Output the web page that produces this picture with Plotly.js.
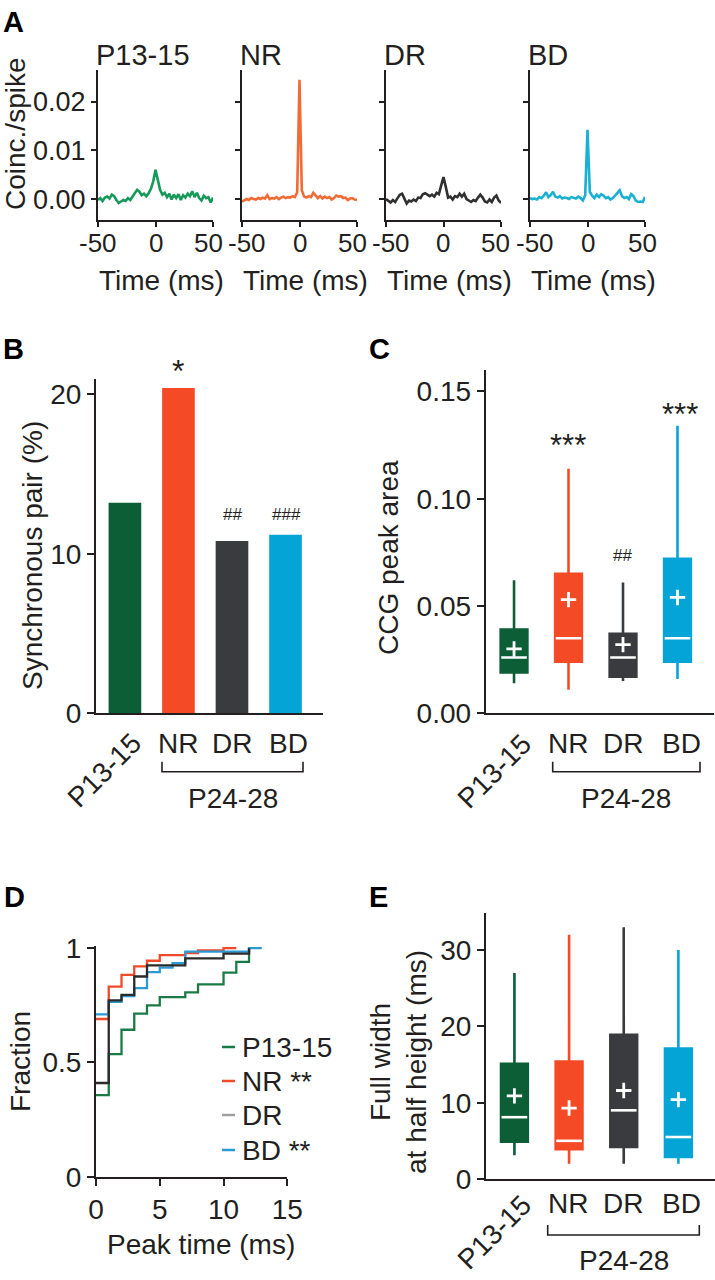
<!DOCTYPE html>
<html><head><meta charset="utf-8">
<script src="https://cdn.plot.ly/plotly-3.0.1.min.js"></script>
<style>html,body{margin:0;padding:0;background:#fff}#chart{width:715px;height:1280px}</style>
</head><body><div id="chart"></div>
<script>
// ---------------- DATA ----------------
const groups = ['P13-15', 'NR', 'DR', 'BD'];
const groupSpan = 'P24-28';

// Panel A: cross-correlograms (coincidences / spike), 2-ms bins
const ccgTime = [-50,-48,-46,-44,-42,-40,-38,-36,-34,-32,-30,-28,-26,-24,-22,-20,-18,-16,-14,-12,-10,-8,-6,-4,-2,0,2,4,6,8,10,12,14,16,18,20,22,24,26,28,30,32,34,36,38,40,42,44,46,48,50];
const ccgP1315 = [-0.0002,0.0002,-0.0004,0.0003,0.0005,0.0001,0.0009,0.0006,-0.0002,-0.0008,
  -0.0005,-0.0002,-0.0004,0.0002,-0.0002,0.0004,0.0012,0.0019,0.0015,0.0008,
  0.0011,0.0006,0.0012,0.0021,0.0036,0.0060,0.0040,0.0019,0.0009,0.0013,
  0.0004,0.0011,-0.0001,0.0009,0.0002,0.0010,-0.0002,0.0008,0.0003,0.0011,
  0.0006,0.0016,0.0004,0.0013,0.0002,-0.0003,0.0007,0.0002,0.0004,-0.0007,0.0003];
const ccgNR = [-0.0005,-0.0003,0.0000,-0.0002,0.0002,0.0000,-0.0001,0.0002,0.0000,0.0003,
  0.0001,0.0008,0.0000,0.0002,0.0001,0.0004,0.0000,0.0003,0.0005,0.0002,
  0.0004,0.0003,0.0006,0.0004,0.0014,0.0245,0.0018,0.0005,0.0003,0.0006,
  0.0004,0.0013,0.0008,0.0002,0.0006,0.0001,0.0005,0.0002,0.0004,-0.0001,
  0.0002,0.0007,0.0005,0.0006,0.0002,0.0003,-0.0002,0.0001,0.0002,-0.0001,-0.0002];
const ccgDR = [0.0000,-0.0004,-0.0007,-0.0002,-0.0006,0.0002,0.0009,0.0011,-0.0001,-0.0009,
  -0.0003,-0.0005,-0.0001,-0.0004,0.0003,0.0002,0.0010,0.0012,0.0009,0.0006,
  0.0009,0.0005,0.0013,0.0010,0.0028,0.0045,0.0025,0.0003,0.0005,-0.0001,
  0.0006,0.0004,0.0011,0.0005,0.0011,0.0000,-0.0003,-0.0006,-0.0002,-0.0004,
  0.0003,0.0009,0.0003,-0.0005,-0.0007,-0.0001,-0.0006,0.0003,0.0007,-0.0003,-0.0008];
const ccgBD = [0.0002,0.0000,0.0001,-0.0001,0.0004,0.0002,0.0007,0.0014,0.0004,0.0008,
  0.0015,0.0005,0.0003,0.0006,0.0001,0.0003,0.0002,0.0000,0.0004,0.0003,
  0.0001,0.0005,0.0002,-0.0003,0.0008,0.0142,0.0015,0.0007,0.0002,0.0009,
  0.0004,0.0010,0.0007,0.0002,0.0004,-0.0001,0.0002,0.0007,0.0012,0.0018,
  0.0006,0.0002,0.0004,0.0000,0.0010,0.0006,-0.0003,-0.0006,-0.0005,-0.0006,0.0004];
const ccgTickVals = [-50, 0, 50];
const ccgTickText = ['-50', '0', '50'];

// Panel B: synchronous pairs (%)
const syncPairPct = [13.2, 20.4, 10.8, 11.2];
const syncSig = ['', '*', '##', '###'];

// Panel C: CCG peak area (box summary)
const areaLower  = [0.014, 0.011, 0.015, 0.016];
const areaQ1     = [0.019, 0.024, 0.017, 0.024];
const areaMedian = [0.026, 0.035, 0.026, 0.035];
const areaQ3     = [0.039, 0.065, 0.037, 0.072];
const areaUpper  = [0.062, 0.114, 0.061, 0.134];
const areaMean   = [0.030, 0.053, 0.032, 0.054];
const areaSig = ['', '***', '##', '***'];

// Panel D: cumulative fraction of peak time (ms)
const peakT_P1315 = [0, 1, 2, 3, 4, 5, 7, 8, 10, 11, 12];
const peakF_P1315 = [0.357, 0.536, 0.643, 0.714, 0.75, 0.786, 0.807, 0.842, 0.893, 0.94, 1.0];
const peakT_NR = [0, 1, 2, 3, 4, 5, 7, 8, 10, 11];
const peakF_NR = [0.69, 0.832, 0.883, 0.92, 0.945, 0.97, 0.978, 0.99, 1.0, 1.0];
const peakT_DR = [0, 1, 2, 3, 4, 7, 10, 12];
const peakF_DR = [0.41, 0.772, 0.796, 0.876, 0.925, 0.955, 0.976, 1.0];
const peakT_BD = [0, 1, 2, 3, 4, 5, 6, 7, 12, 13];
const peakF_BD = [0.71, 0.765, 0.79, 0.825, 0.895, 0.915, 0.935, 0.985, 1.0, 1.0];
const legendLabels = ['P13-15', 'NR **', 'DR', 'BD **'];

// Panel E: full width at half height (ms)
const fwhmLower  = [3.1, 2.0, 2.0, 2.0];
const fwhmQ1     = [4.9, 3.9, 4.2, 2.9];
const fwhmMedian = [8.1, 5.0, 9.0, 5.5];
const fwhmQ3     = [15.1, 15.4, 18.9, 17.1];
const fwhmUpper  = [27.0, 32.0, 33.0, 30.0];
const fwhmMean   = [10.9, 9.3, 11.6, 10.4];

// ---------------- STYLE ----------------
const W = 715, H = 1280;
const FONT = 'Liberation Sans, Arial, Helvetica, sans-serif';
const TXT = '#231f20';
const fillCols = ['#0b5e35', '#f44b26', '#3a3b3e', '#05a4d6'];
const ccgCols  = ['#17995a', '#f26a35', '#303030', '#19b0d2'];
const cdfCols  = ['#1a7a45', '#ef4a2a', '#2a2a2a', '#2a9ad6'];
const legendCols = ['#1a7a45', '#ef4a2a', '#a0a0a0', '#2a9ad6'];

const px = x => x / W;
const py = y => 1 - y / H;

function ann(text, x, y, o) {
  o = o || {};
  const font = Object.assign({family: FONT, size: 28, color: TXT}, o.font || {});
  const a = Object.assign({text: text, x: px(x), y: py(y), xref: 'paper', yref: 'paper',
    showarrow: false, xanchor: 'center', yanchor: 'middle'}, o);
  a.font = font;
  return a;
}

const axBase = {
  showgrid: false, zeroline: false, showline: true, linecolor: TXT, linewidth: 2,
  ticks: 'outside', tickcolor: TXT, tickwidth: 2, ticklen: 6,
  tickfont: {family: FONT, size: 28, color: TXT}, fixedrange: true
};
function ax(o) { return Object.assign({}, axBase, o); }

const traces = [];
const layout = {
  width: W, height: H, autosize: false,
  margin: {l: 0, r: 0, t: 0, b: 0},
  paper_bgcolor: '#ffffff', plot_bgcolor: 'rgba(0,0,0,0)',
  showlegend: false, hovermode: false, boxmode: 'overlay',
  annotations: [], shapes: []
};

// ---------------- PANEL A ----------------
const ccgSeries = [ccgP1315, ccgNR, ccgDR, ccgBD];
const aLeft = [98, 242, 386, 530], aWidth = 115;
const aTop = 70, aBottom = 220;
const tickNudge = [[0, 0, -5], [5, 0, -5], [5, 0, -5], [5, 0, -3]];
for (let i = 0; i < 4; i++) {
  const xn = i === 0 ? '' : String(i + 1);
  traces.push({type: 'scatter', mode: 'lines', x: ccgTime, y: ccgSeries[i],
    xaxis: 'x' + xn, yaxis: 'y' + xn, line: {color: ccgCols[i], width: 2.6}});
  layout['xaxis' + xn] = ax({domain: [px(aLeft[i]), px(aLeft[i] + aWidth)], anchor: 'y' + xn,
    range: [-50, 50], tickvals: ccgTickVals, ticklen: 5, showticklabels: false});
  layout['yaxis' + xn] = ax({domain: [py(aBottom), py(aTop)], anchor: 'x' + xn,
    range: [-0.0043, 0.0265], tickvals: [0, 0.01, 0.02], ticktext: ['0.00', '0.01', '0.02'],
    ticklen: 5, showticklabels: i === 0, tickfont: {family: FONT, size: 27, color: TXT}});
  // x tick labels (pushed apart slightly at the shared panel borders, as in the reference)
  ccgTickVals.forEach((v, k) => {
    const xPix = aLeft[i] + (v + 50) / 100 * aWidth + tickNudge[i][k];
    layout.annotations.push(ann(ccgTickText[k], xPix, 243, {font: {size: 26}}));
  });
  layout.annotations.push(ann(groups[i], aLeft[i] - 4, 55, {xanchor: 'left', font: {size: 29}}));
  layout.annotations.push(ann('Time (ms)', aLeft[i] + aWidth / 2 + 6, 281));
}
layout.annotations.push(ann('Coinc./spike', 15, 134, {textangle: -90}));

// ---------------- PANEL B ----------------
const catIdx = groups.map((g, i) => i);
traces.push({type: 'bar', x: catIdx, y: syncPairPct, width: 0.61,
  marker: {color: fillCols, line: {width: 0}}, xaxis: 'x5', yaxis: 'y5'});
layout.xaxis5 = ax({domain: [px(96), px(323)], anchor: 'y5', range: [-0.54, 3.70],
  ticks: '', showticklabels: false});
layout.yaxis5 = ax({domain: [py(713.3), py(379)], anchor: 'x5', range: [0, 20.96],
  tickvals: [0, 10, 20], ticklen: 7});
layout.annotations.push(ann('Synchronous pair (%)', 32, 556, {textangle: -90}));

// ---------------- PANEL C ----------------
function boxPanel(xa, ya, lo, q1, med, q3, up, mean) {
  for (let i = 0; i < 4; i++) {
    traces.push({type: 'box', x: [i], q1: [q1[i]], median: [med[i]], q3: [q3[i]],
      lowerfence: [lo[i]], upperfence: [up[i]], width: 0.49, whiskerwidth: 0,
      fillcolor: fillCols[i], line: {color: fillCols[i], width: 2.6}, boxpoints: false,
      xaxis: xa, yaxis: ya});
  }
  const mx = [], my = [];
  med.forEach((m, i) => { mx.push(i - 0.235, i + 0.235, null); my.push(m, m, null); });
  traces.push({type: 'scatter', mode: 'lines', x: mx, y: my, connectgaps: false,
    line: {color: '#ffffff', width: 2.6}, xaxis: xa, yaxis: ya});
  traces.push({type: 'scatter', mode: 'markers', x: catIdx, y: mean,
    marker: {symbol: 'cross-thin', size: 11, color: '#ffffff', line: {color: '#ffffff', width: 2.8}},
    xaxis: xa, yaxis: ya});
}
boxPanel('x6', 'y6', areaLower, areaQ1, areaMedian, areaQ3, areaUpper, areaMean);
layout.xaxis6 = ax({domain: [px(485.7), px(714)], anchor: 'y6', range: [-0.52, 3.67],
  ticks: '', showticklabels: false});
layout.yaxis6 = ax({domain: [py(713.3), py(370)], anchor: 'x6', range: [0, 0.16],
  tickvals: [0, 0.05, 0.10, 0.15], ticktext: ['0.00', '0.05', '0.10', '0.15'], ticklen: 7});
layout.annotations.push(ann('CCG peak area', 388, 558, {textangle: -90}));

// ---------------- PANEL D ----------------
const cdfT = [peakT_P1315, peakT_NR, peakT_DR, peakT_BD];
const cdfF = [peakF_P1315, peakF_NR, peakF_DR, peakF_BD];
[0, 1, 3, 2].forEach(i => {
  traces.push({type: 'scatter', mode: 'lines', x: cdfT[i], y: cdfF[i], line: {shape: 'hv', color: cdfCols[i], width: 2.3},
    xaxis: 'x7', yaxis: 'y7'});
});
layout.xaxis7 = ax({domain: [px(96), px(287.3)], anchor: 'y7', range: [0, 15],
  tickvals: [0, 5, 10, 15], ticklen: 7});
layout.yaxis7 = ax({domain: [py(1176.7), py(945.9)], anchor: 'x7', range: [0, 1.01],
  tickvals: [0, 0.5, 1], ticktext: ['0', '0.5', '1'], ticklen: 7});
layout.annotations.push(ann('Fraction', 20, 1062, {textangle: -90}));
layout.annotations.push(ann('Peak time (ms)', 201, 1244));
const legY = [1047, 1081, 1115, 1150];
legendLabels.forEach((lab, i) => {
  layout.shapes.push({type: 'line', xref: 'paper', yref: 'paper', x0: px(222), x1: px(235),
    y0: py(legY[i]), y1: py(legY[i]), line: {color: legendCols[i], width: 2.5}});
  layout.annotations.push(ann(lab, 240, legY[i], {xanchor: 'left'}));
});

// ---------------- PANEL E ----------------
boxPanel('x8', 'y8', fwhmLower, fwhmQ1, fwhmMedian, fwhmQ3, fwhmUpper, fwhmMean);
layout.xaxis8 = ax({domain: [px(486), 1], anchor: 'y8', range: [-0.52, 3.67],
  ticks: '', showticklabels: false});
layout.yaxis8 = ax({domain: [py(1179), py(912.7)], anchor: 'x8', range: [0, 34.9],
  tickvals: [0, 10, 20, 30], ticklen: 7});
layout.annotations.push(ann('Full width<br>at half height (ms)', 398, 1062, {textangle: -90}));

// ---------------- Category labels & brackets ----------------
function catLabels(xCenters, yRow, p13c, bx0, bx1, by, spanY) {
  layout.annotations.push(ann(groups[0], p13c[0], p13c[1], {textangle: -45}));
  for (let i = 1; i < 4; i++) layout.annotations.push(ann(groups[i], xCenters[i], yRow));
  layout.shapes.push({type: 'path', xref: 'paper', yref: 'paper',
    path: 'M' + px(bx0) + ',' + py(by - 10) + ' L' + px(bx0) + ',' + py(by) + ' L' + px(bx1) + ',' + py(by) + ' L' + px(bx1) + ',' + py(by - 10),
    line: {color: TXT, width: 1.6}});
  layout.annotations.push(ann(groupSpan, (bx0 + bx1) / 2, spanY));
}
catLabels([125, 178, 232, 288], 743, [104, 770], 162, 303, 771.7, 798);
catLabels([514, 568, 623, 681], 743, [494, 771], 552.7, 700, 771.7, 798);
catLabels([514, 568, 623, 681], 1203, [494, 1232], 547.7, 699.3, 1235, 1260);

// ---------------- Significance marks ----------------
layout.annotations.push(ann(syncSig[1], 178, 371, {font: {size: 32}}));
layout.annotations.push(ann(syncSig[2], 232, 514, {font: {size: 17}}));
layout.annotations.push(ann(syncSig[3], 286, 514, {font: {size: 17}}));
layout.annotations.push(ann(areaSig[1], 568, 446, {font: {size: 31}}));
layout.annotations.push(ann(areaSig[2], 622, 555, {font: {size: 17}}));
layout.annotations.push(ann(areaSig[3], 680, 414, {font: {size: 31}}));

// ---------------- Panel letters ----------------
[['A', 13, 22], ['B', 13, 349], ['C', 379, 349], ['D', 14, 897], ['E', 378, 897]].forEach(l => {
  layout.annotations.push(ann('<b>' + l[0] + '</b>', l[1], l[2], {font: {size: 29, color: '#000'}}));
});

Plotly.newPlot('chart', traces, layout, {staticPlot: true, displayModeBar: false});
</script>
</body></html>
